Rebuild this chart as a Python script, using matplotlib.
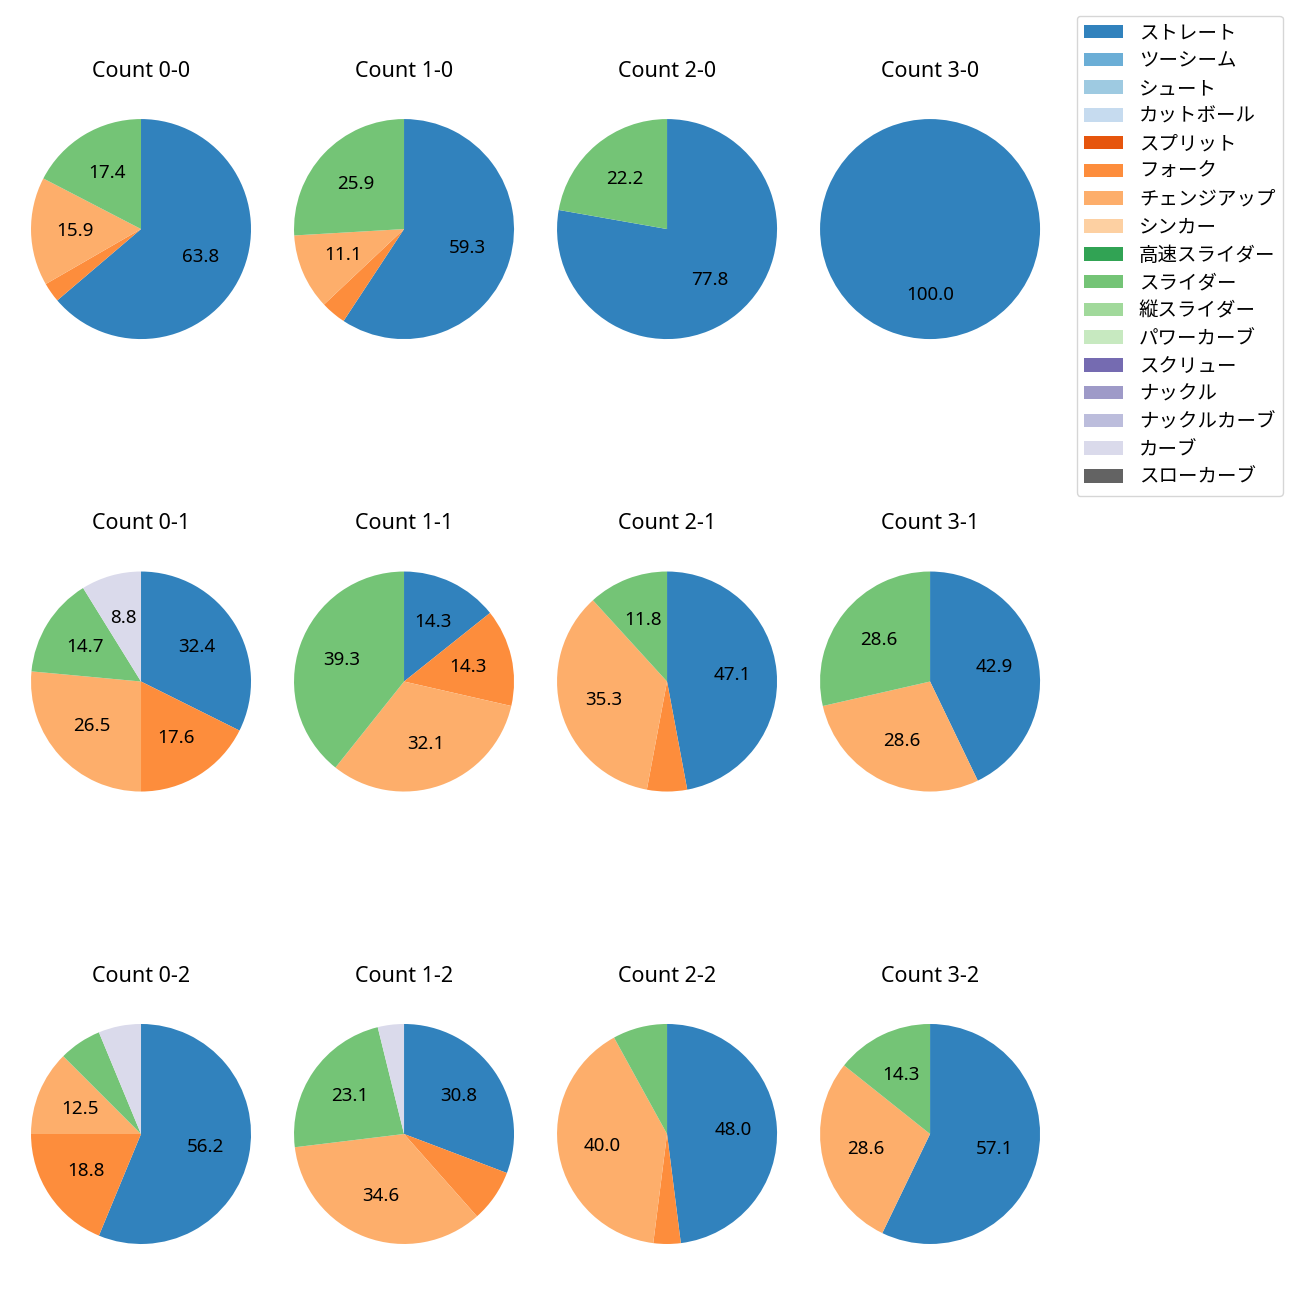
import numpy as np
import matplotlib as mpl
import matplotlib.pyplot as plt
from matplotlib.patches import Patch

plt.rcParams["font.family"] = ["Noto Sans", "Noto Sans CJK JP", "DejaVu Sans"]

# ----------------------------------------------------------------------------
# Data: pitch counts per ball-strike count (order follows PITCH_TYPES)
# ----------------------------------------------------------------------------

PITCH_TYPES = ["ストレート", "ツーシーム", "シュート", "カットボール", "スプリット",
               "フォーク", "チェンジアップ", "シンカー", "高速スライダー", "スライダー",
               "縦スライダー", "パワーカーブ", "スクリュー", "ナックル", "ナックルカーブ",
               "カーブ", "スローカーブ"]

#            St Tw Sh Cu Sp Fo Ch Si HS Sl VS PC Sc Kn KC Cv SC
COUNT_0_0 = [44, 0, 0, 0, 0, 2, 11, 0, 0, 12, 0, 0, 0, 0, 0, 0, 0]
COUNT_1_0 = [16, 0, 0, 0, 0, 1, 3, 0, 0, 7, 0, 0, 0, 0, 0, 0, 0]
COUNT_2_0 = [7, 0, 0, 0, 0, 0, 0, 0, 0, 2, 0, 0, 0, 0, 0, 0, 0]
COUNT_3_0 = [1, 0, 0, 0, 0, 0, 0, 0, 0, 0, 0, 0, 0, 0, 0, 0, 0]
COUNT_0_1 = [11, 0, 0, 0, 0, 6, 9, 0, 0, 5, 0, 0, 0, 0, 0, 3, 0]
COUNT_1_1 = [4, 0, 0, 0, 0, 4, 9, 0, 0, 11, 0, 0, 0, 0, 0, 0, 0]
COUNT_2_1 = [8, 0, 0, 0, 0, 1, 6, 0, 0, 2, 0, 0, 0, 0, 0, 0, 0]
COUNT_3_1 = [3, 0, 0, 0, 0, 0, 2, 0, 0, 2, 0, 0, 0, 0, 0, 0, 0]
COUNT_0_2 = [9, 0, 0, 0, 0, 3, 2, 0, 0, 1, 0, 0, 0, 0, 0, 1, 0]
COUNT_1_2 = [8, 0, 0, 0, 0, 2, 9, 0, 0, 6, 0, 0, 0, 0, 0, 1, 0]
COUNT_2_2 = [12, 0, 0, 0, 0, 1, 10, 0, 0, 2, 0, 0, 0, 0, 0, 0, 0]
COUNT_3_2 = [4, 0, 0, 0, 0, 0, 2, 0, 0, 1, 0, 0, 0, 0, 0, 0, 0]

GRID = [
    [("0-0", COUNT_0_0), ("1-0", COUNT_1_0), ("2-0", COUNT_2_0), ("3-0", COUNT_3_0)],
    [("0-1", COUNT_0_1), ("1-1", COUNT_1_1), ("2-1", COUNT_2_1), ("3-1", COUNT_3_1)],
    [("0-2", COUNT_0_2), ("1-2", COUNT_1_2), ("2-2", COUNT_2_2), ("3-2", COUNT_3_2)],
]

COLORS = [mpl.colormaps["tab20c"](i) for i in range(len(PITCH_TYPES))]

# ----------------------------------------------------------------------------
# Figure
# ----------------------------------------------------------------------------

fig, axes = plt.subplots(3, 4, figsize=(13, 13), dpi=100)
fig.subplots_adjust(left=0.0027, right=0.8212, wspace=-0.0436,
                    top=0.9392, bottom=0.0123, hspace=0.508)

for row, ax_row in zip(GRID, axes):
    for (label, counts), ax in zip(row, ax_row):
        vals = np.array(counts, dtype=float)
        keep = vals > 0
        ax.pie(vals[keep], colors=[c for c, k in zip(COLORS, keep) if k],
               startangle=90, counterclock=False,
               autopct=lambda p: f"{p:.1f}" if p >= 8.5 else "",
               textprops={"fontsize": 13.5})
        ax.set_title(f"Count {label}", fontsize=15.5, pad=10.5)

handles = [Patch(facecolor=c, label=t) for c, t in zip(COLORS, PITCH_TYPES)]
fig.legend(handles=handles, loc="upper right", bbox_to_anchor=(0.987, 0.988),
           borderaxespad=0, fontsize=14, labelspacing=0.40)

fig.savefig("out.png", dpi=100)
